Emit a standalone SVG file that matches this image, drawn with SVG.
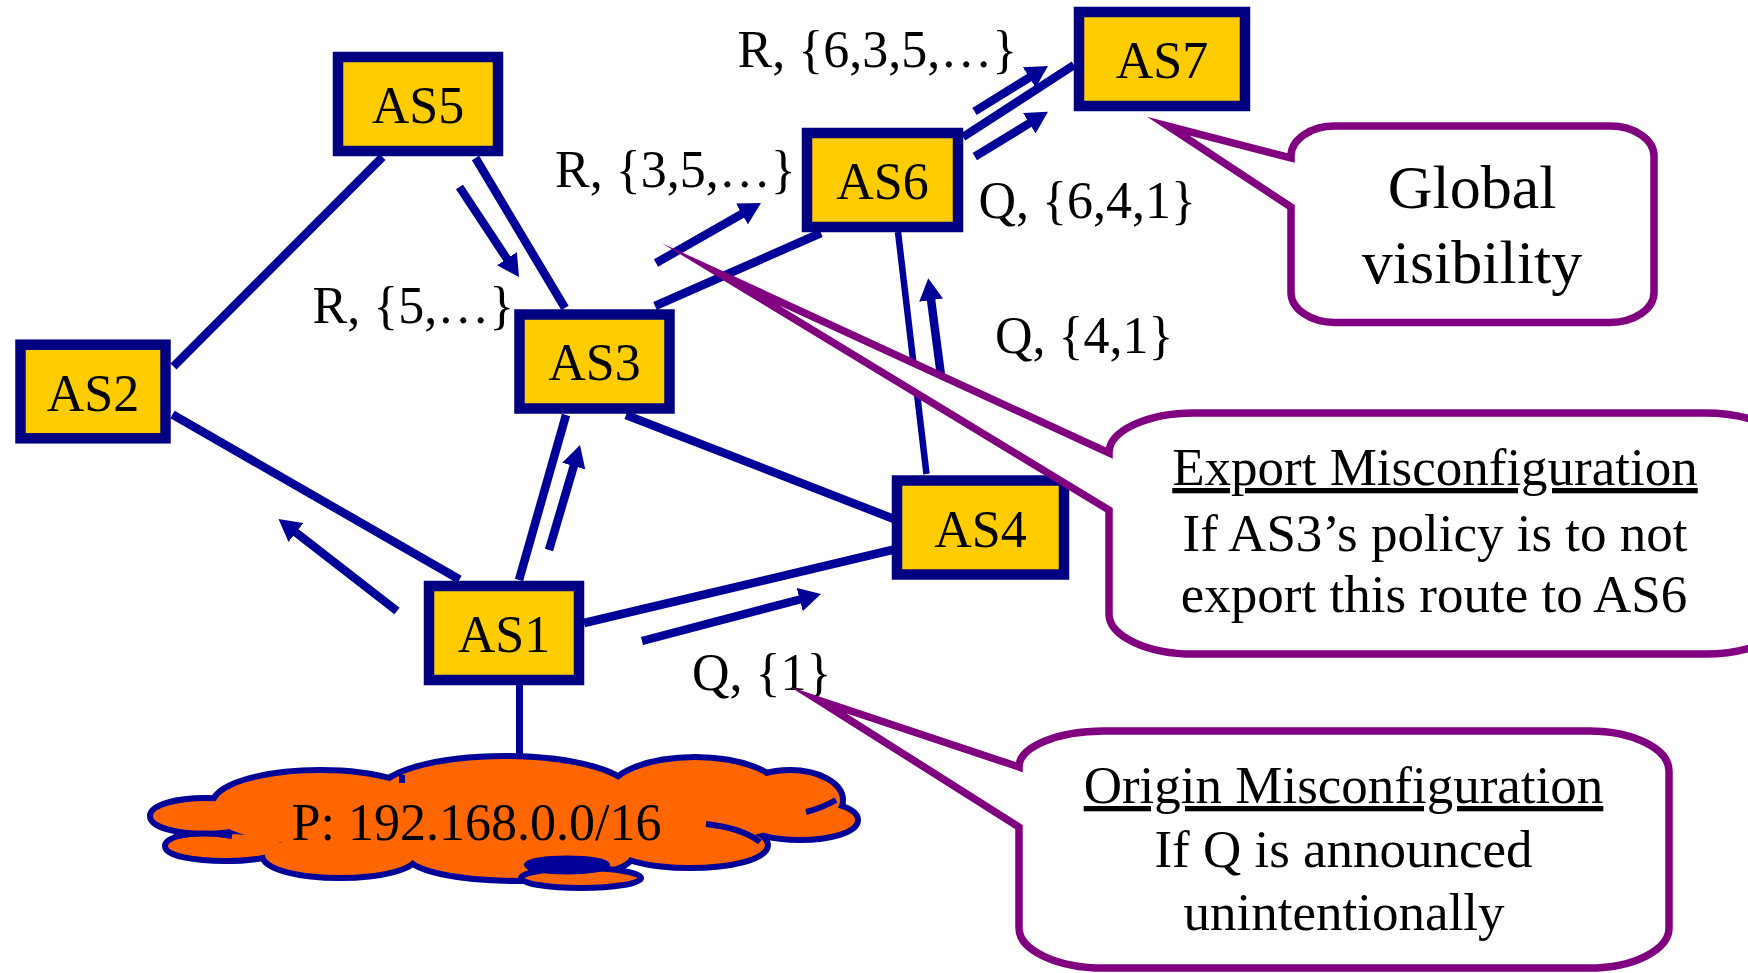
<svg xmlns="http://www.w3.org/2000/svg" width="1748" height="973" viewBox="0 0 1748 973">
<defs>
<style>
.t{font-family:"Liberation Serif","Times New Roman",serif;font-size:52px;fill:#000}
.c{font-family:"Liberation Serif","Times New Roman",serif;font-size:53px;fill:#000;text-anchor:middle}
.g{font-family:"Liberation Serif","Times New Roman",serif;font-size:62px;fill:#000;text-anchor:middle}
.box{fill:#FFCC00;stroke:#000080;stroke-width:10.5}
.lbl{font-family:"Liberation Serif","Times New Roman",serif;font-size:52px;fill:#000;text-anchor:middle}
.ln{stroke:#000099;stroke-width:8.5;fill:none}
.thin{stroke-width:6.5}
.ar{stroke:#000099;stroke-width:8.5;fill:none;marker-end:url(#ah)}
.call{fill:#fff;stroke:#800080;stroke-width:7.5;stroke-linejoin:miter;stroke-miterlimit:20}
</style>
<marker id="ah" markerUnits="userSpaceOnUse" viewBox="0 0 22 24" refX="10" refY="12" markerWidth="22" markerHeight="24" orient="auto">
<path d="M0,0 L22,12 L0,24 Z" fill="#000099"/>
</marker>
</defs>
<rect width="1748" height="973" fill="#fff"/>

<g id="connectors">
<line class="ln" x1="382.5" y1="157" x2="173.5" y2="366.5"/>
<line class="ln" x1="475.5" y1="158" x2="565" y2="308"/>
<line class="ln" x1="172.5" y1="414.5" x2="459.5" y2="579.5"/>
<line class="ln" x1="566" y1="415" x2="519" y2="580"/>
<line class="ln" x1="626" y1="415" x2="894" y2="519"/>
<line class="ln" x1="584" y1="623" x2="894" y2="549.5"/>
<line class="ln" x1="519.5" y1="685" x2="519.5" y2="775" style="stroke-width:7"/>
<line class="ln" x1="655" y1="306" x2="821" y2="233"/>
<line class="ln thin" x1="898" y1="232" x2="926.5" y2="474"/>
<line class="ln" x1="963" y1="137" x2="1074" y2="65"/>
<line class="ar" x1="459.5" y1="187" x2="512.4" y2="267"/>
<line class="ar" x1="656" y1="263" x2="750.6" y2="209"/>
<line class="ar" x1="974.5" y1="111.5" x2="1037.8" y2="72.3"/>
<line class="ar" x1="974.8" y1="156.7" x2="1037.8" y2="118"/>
<line class="ar thin" x1="942" y1="383" x2="929.8" y2="290.2"/>
<line class="ar" x1="397" y1="611" x2="288" y2="526.4"/>
<line class="ar" x1="549" y1="550" x2="576.6" y2="456.5"/>
<line class="ar" x1="642" y1="641" x2="809.4" y2="597"/>
</g>

<g id="edge-labels">
<text class="t" x="737.6" y="67">R, {6,3,5,…}</text>
<text class="t" x="555" y="187">R, {3,5,…}</text>
<text class="t" x="312.5" y="323">R, {5,…}</text>
<text class="t" x="978.5" y="218">Q, {6,4,1}</text>
<text class="t" x="995" y="353">Q, {4,1}</text>
<text class="t" x="692" y="690">Q, {1}</text>
</g>

<g id="cloud">
<g fill="none" stroke="#000099" stroke-width="12">
<ellipse cx="205" cy="816" rx="52" ry="15"/>
<ellipse cx="225" cy="846" rx="57" ry="12"/>
<ellipse cx="320" cy="805" rx="105" ry="32"/>
<ellipse cx="505" cy="795" rx="125" ry="36"/>
<ellipse cx="695" cy="795" rx="85" ry="35"/>
<ellipse cx="790" cy="800" rx="50" ry="27"/>
<ellipse cx="800" cy="820" rx="55" ry="17"/>
<ellipse cx="340" cy="855" rx="75" ry="20"/>
<ellipse cx="520" cy="855" rx="110" ry="23"/>
<ellipse cx="690" cy="845" rx="75" ry="20"/>
</g>
<g fill="#FF6600">
<ellipse cx="205" cy="816" rx="52" ry="15"/>
<ellipse cx="225" cy="846" rx="57" ry="12"/>
<ellipse cx="320" cy="805" rx="105" ry="32"/>
<ellipse cx="505" cy="795" rx="125" ry="36"/>
<ellipse cx="695" cy="795" rx="85" ry="35"/>
<ellipse cx="790" cy="800" rx="50" ry="27"/>
<ellipse cx="800" cy="820" rx="55" ry="17"/>
<ellipse cx="340" cy="855" rx="75" ry="20"/>
<ellipse cx="520" cy="855" rx="110" ry="23"/>
<ellipse cx="690" cy="845" rx="75" ry="20"/>
<ellipse cx="500" cy="820" rx="280" ry="36"/>
</g>
<g fill="none" stroke="#000099" stroke-width="6">
<path d="M176,836 Q205,831 232,836"/>
<path d="M806,812 Q822,808 836,800"/>
<path d="M706,824 Q742,828 760,842"/>
<path d="M402,775 L402,783"/>
</g>
<ellipse cx="581" cy="878" rx="60" ry="10" fill="#FF6600" stroke="#000099" stroke-width="6"/>
<ellipse cx="567" cy="865" rx="40" ry="6.5" fill="#000099" stroke="#000099" stroke-width="6"/>
<text class="t" x="291.6" y="840">P: 192.168.0.0/16</text>
</g>

<g id="AS5"><rect class="box" x="338" y="57" width="160" height="94"/><text class="lbl" x="418" y="123">AS5</text></g>
<g id="AS2"><rect class="box" x="20.5" y="344.7" width="145" height="93.6"/><text class="lbl" x="93" y="410.5">AS2</text></g>
<g id="AS3"><rect class="box" x="519.5" y="314.5" width="150" height="94"/><text class="lbl" x="594.5" y="380">AS3</text></g>
<g id="AS6"><rect class="box" x="807" y="133" width="151" height="94"/><text class="lbl" x="882.5" y="199">AS6</text></g>
<g id="AS7"><rect class="box" x="1079" y="12" width="166" height="94"/><text class="lbl" x="1162" y="78">AS7</text></g>
<g id="AS4"><rect class="box" x="897" y="480.5" width="167" height="94"/><text class="lbl" x="980.5" y="546.5">AS4</text></g>
<g id="AS1"><rect class="box" x="429" y="586" width="150" height="94"/><text class="lbl" x="504" y="652">AS1</text></g>

<g id="callout-global">
<path class="call" d="M1335,126 H1610 A44 30 0 0 1 1654,156 V292.5 A44 30 0 0 1 1610,322.5 H1335 A44 30 0 0 1 1291,292.5 V207 L1168,126 L1291,158 V156 A44 30 0 0 1 1335,126 Z"/>
<text class="g" x="1472" y="208">Global</text>
<text class="g" x="1472" y="283">visibility</text>
</g>

<g id="callout-export">
<path class="call" d="M1194,413 H1705 A85 40 0 0 1 1790,453 V614 A85 40 0 0 1 1705,654 H1194 A85 40 0 0 1 1109,614 V510 L720,274 L1109,453 A85 40 0 0 1 1194,413 Z"/>
<text class="c" x="1435" y="485" text-decoration="underline">Export Misconfiguration</text>
<text class="c" x="1435" y="551">If AS3’s policy is to not</text>
<text class="c" x="1434" y="612">export this route to AS6</text>
</g>

<g id="callout-origin">
<path class="call" d="M1104,731 H1589 A80 40 0 0 1 1669,771 V928 A80 40 0 0 1 1589,968 H1104 A85 40 0 0 1 1019,928 V827 L818,700 L1019,767 A85 36 0 0 1 1104,731 Z"/>
<text class="c" x="1343.5" y="803" text-decoration="underline">Origin Misconfiguration</text>
<text class="c" x="1343.5" y="867">If Q is announced</text>
<text class="c" x="1344" y="930">unintentionally</text>
</g>
</svg>
